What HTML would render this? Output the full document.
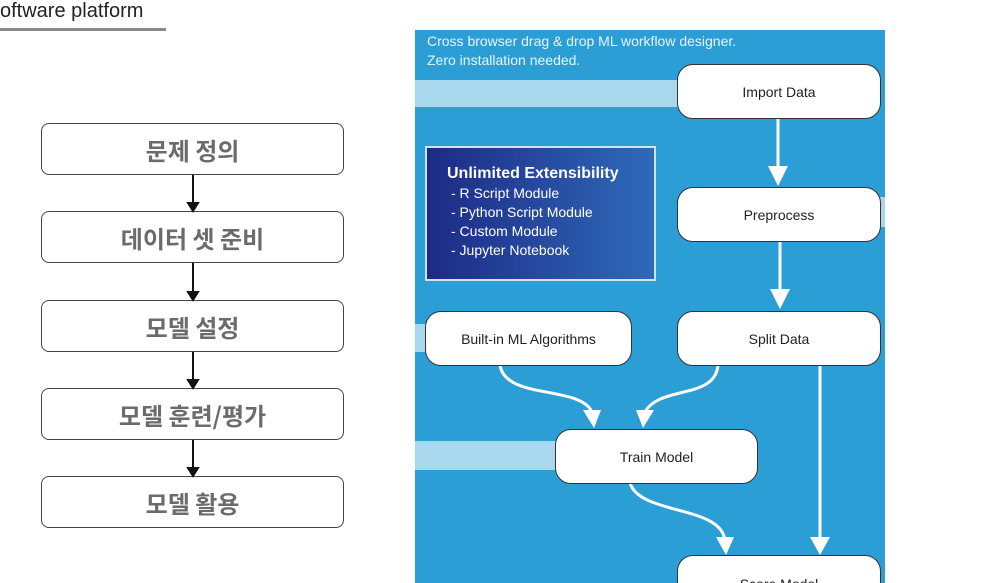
<!DOCTYPE html>
<html style="margin:0;width:988px;height:583px;overflow:hidden"><head><meta charset="utf-8"><style>
body{margin:0;width:988px;height:583px;overflow:hidden;background:#fff;font-family:"Liberation Sans","Noto Sans CJK KR",sans-serif;position:relative}
.l{position:absolute;left:41px;width:303px;height:52px;border:1.5px solid #444;border-radius:8px;box-sizing:border-box;display:flex;align-items:center;justify-content:center;color:#6b6b6b;font-weight:bold;font-size:24px;font-family:"Noto Sans CJK KR","NanumGothic",sans-serif}
.n{position:absolute;background:#fff;border:1.5px solid #333;border-radius:16px;box-sizing:border-box;display:flex;align-items:center;justify-content:center;font-size:14px;color:#222}
</style></head><body>
<div style="position:absolute;left:0;top:0px;font-size:20px;color:#222">oftware platform</div>
<div style="position:absolute;left:0;top:28px;width:166px;height:3px;background:#888"></div>
<div class="l" style="top:123px">문제 정의</div>
<div class="l" style="top:211px">데이터 셋 준비</div>
<div class="l" style="top:300px">모델 설정</div>
<div class="l" style="top:388px">모델 훈련/평가</div>
<div class="l" style="top:476px">모델 활용</div>
<svg style="position:absolute;left:0;top:0" width="988" height="583">
<g stroke="#111" stroke-width="2" fill="#111">
<line x1="193" y1="175" x2="193" y2="205"/><polygon points="188,203 198,203 193,211"/>
<line x1="193" y1="263" x2="193" y2="294"/><polygon points="188,292 198,292 193,300"/>
<line x1="193" y1="352" x2="193" y2="382"/><polygon points="188,380 198,380 193,388"/>
<line x1="193" y1="440" x2="193" y2="470"/><polygon points="188,468 198,468 193,476"/>
</g>
<rect x="415" y="30" width="470" height="553" fill="#2b9ed6"/>
<rect x="415" y="80" width="265" height="27" fill="#a8d8ee"/>
<rect x="880" y="197" width="5" height="30" fill="#a8d8ee"/>
<rect x="415" y="441" width="142" height="29" fill="#a8d8ee"/>
<rect x="415" y="324" width="12" height="28" fill="#a8d8ee"/>
<defs><linearGradient id="g" x1="0" x2="1" y1="0" y2="0"><stop offset="0" stop-color="#1d2a86"/><stop offset="1" stop-color="#2f6ab8"/></linearGradient></defs>
<rect x="426" y="147" width="229" height="133" fill="url(#g)" stroke="#cfe3f5" stroke-width="2"/>
<g stroke="#fff" stroke-width="3" fill="none">
<line x1="778" y1="118" x2="778" y2="170"/>
<line x1="780" y1="241" x2="780" y2="292"/>
<line x1="820" y1="365" x2="820" y2="540"/>
<path d="M500 365 C505 400 580 385 592 412"/>
<path d="M718 365 C715 400 660 385 645 412"/>
<path d="M630 483 C640 515 720 505 725 540"/>
</g>
<g fill="#fff">
<polygon points="768,166 788,166 778,186"/>
<polygon points="770,289 790,289 780,309"/>
<polygon points="810,537 830,537 820,555"/>
<polygon points="583,410 601,410 594,428"/>
<polygon points="636,410 654,410 643,428"/>
<polygon points="716,537 734,537 726,555"/>
</g>
<text x="427" y="46" fill="#e8f4fb" font-size="14">Cross browser drag &amp; drop ML workflow designer.</text>
<text x="427" y="65" fill="#e8f4fb" font-size="14">Zero installation needed.</text>
<text x="447" y="178" fill="#fff" font-size="16" font-weight="bold">Unlimited Extensibility</text>
<g fill="#fff" font-size="14"><text x="451" y="198">- R Script  Module</text><text x="451" y="217">- Python Script  Module</text><text x="451" y="236">- Custom Module</text><text x="451" y="255">- Jupyter Notebook</text></g>
</svg>
<div class="n" style="left:677px;top:64px;width:204px;height:55px">Import Data</div>
<div class="n" style="left:677px;top:187px;width:204px;height:55px">Preprocess</div>
<div class="n" style="left:677px;top:311px;width:204px;height:55px">Split Data</div>
<div class="n" style="left:425px;top:311px;width:207px;height:55px">Built-in ML Algorithms</div>
<div class="n" style="left:555px;top:429px;width:203px;height:55px">Train Model</div>
<div class="n" style="left:677px;top:555px;width:204px;height:28px;border-bottom:none;border-radius:16px 16px 0 0;align-items:flex-start;padding-top:20px;overflow:hidden">Score Model</div>
</body></html>
